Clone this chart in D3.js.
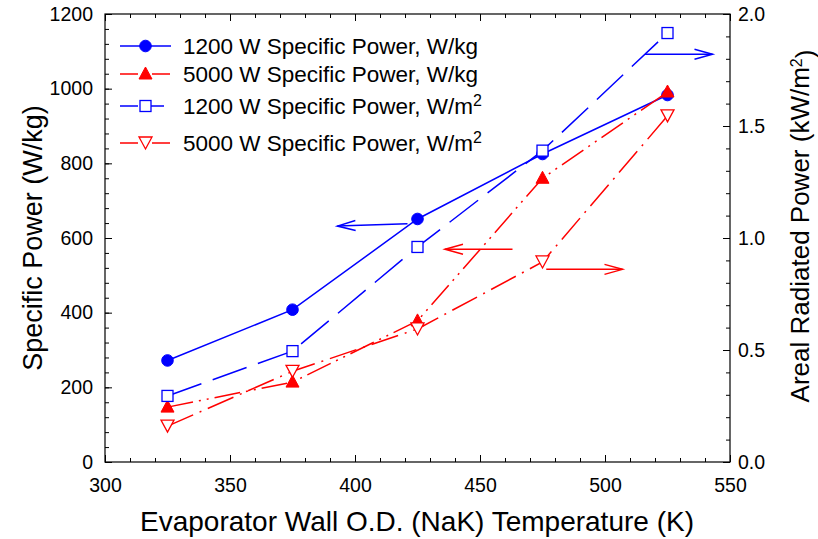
<!DOCTYPE html>
<html><head><meta charset="utf-8">
<script src="https://cdn.jsdelivr.net/npm/d3@7"></script>
<style>
body{margin:0;background:#fff}
svg{display:block}
text{font-family:"Liberation Sans",Arial,Helvetica,sans-serif;fill:#000}
</style>
</head><body>
<svg id="chart" width="818" height="539"></svg>
<script>
// ---- data ----
const temps = [325, 375, 425, 475, 525];
const sp1200 = [272, 408, 651, 825, 983];      // W/kg
const sp5000 = [147, 214, 378, 760, 991];      // W/kg
const ar1200 = [0.295, 0.495, 0.96, 1.39, 1.915]; // kW/m2
const ar5000 = [0.16, 0.405, 0.594, 0.893, 1.545]; // kW/m2
const xTicks = [300, 350, 400, 450, 500, 550];
const yLeftTicks = [0, 200, 400, 600, 800, 1000, 1200];
const yRightTicks = [0, 0.5, 1.0, 1.5, 2.0];
const legendLabels = ["1200 W Specific Power, W/kg", "5000 W Specific Power, W/kg", "1200 W Specific Power, W/m", "5000 W Specific Power, W/m"];
// annotation arrows (data units): [x tail, y tail, axis] and [x tip, y tip, axis]
const arrowTails = [[421, 638, 'L'], [463, 570, 'L'], [476.5, 0.86, 'R'], [516, 1.82, 'R']];
const arrowTips  = [[393, 632, 'L'], [436, 570, 'L'], [507, 0.86, 'R'], [543, 1.82, 'R']];

const BLUE = "#0000ff", RED = "#ff0000";
const svg = d3.select("#chart");
const m = {l: 105, r: 730, t: 14, b: 462};

const x = d3.scaleLinear().domain([300, 550]).range([m.l, m.r]);
const yL = d3.scaleLinear().domain([0, 1200]).range([m.b, m.t]);
const yR = d3.scaleLinear().domain([0, 2.0]).range([m.b, m.t]);

// ---- axes ----
function styleAxis(g) {
  g.select(".domain").remove();
  g.selectAll("line").attr("stroke", "#000").attr("stroke-width", 1);
  g.selectAll("text").style("font-size", "19.5px").attr("fill", "#000");
}
// minor ticks
svg.append("g").attr("transform", `translate(0,${m.b})`)
  .call(d3.axisBottom(x).tickValues(d3.range(300, 551, 10)).tickSize(-4).tickFormat("")).call(styleAxis);
svg.append("g").attr("transform", `translate(0,${m.t})`)
  .call(d3.axisTop(x).tickValues(d3.range(300, 551, 10)).tickSize(-4).tickFormat("")).call(styleAxis);
svg.append("g").attr("transform", `translate(${m.l},0)`)
  .call(d3.axisLeft(yL).tickValues(d3.range(0, 1201, 40)).tickSize(-4).tickFormat("")).call(styleAxis);
svg.append("g").attr("transform", `translate(${m.r},0)`)
  .call(d3.axisRight(yR).tickValues(d3.range(0, 21, 1).map(v => v / 10)).tickSize(-4).tickFormat("")).call(styleAxis);
// major ticks
svg.append("g").attr("transform", `translate(0,${m.b})`)
  .call(d3.axisBottom(x).tickValues(xTicks).tickSize(-7).tickPadding(16).tickFormat(d3.format("d"))).call(styleAxis);
svg.append("g").attr("transform", `translate(0,${m.t})`)
  .call(d3.axisTop(x).tickValues(xTicks).tickSize(-7).tickFormat("")).call(styleAxis);
svg.append("g").attr("transform", `translate(${m.l},0)`)
  .call(d3.axisLeft(yL).tickValues(yLeftTicks).tickSize(-7).tickPadding(12).tickFormat(d3.format("d"))).call(styleAxis);
svg.append("g").attr("transform", `translate(${m.r},0)`)
  .call(d3.axisRight(yR).tickValues(yRightTicks).tickSize(-7).tickPadding(8).tickFormat(d3.format(".1f"))).call(styleAxis);
// frame
svg.append("rect").attr("x", m.l).attr("y", m.t).attr("width", m.r - m.l).attr("height", m.b - m.t)
  .attr("fill", "none").attr("stroke", "#000").attr("stroke-width", 1.2);

// ---- axis titles ----
svg.append("text").attr("x", 417).attr("y", 531).attr("text-anchor", "middle")
  .style("font-size", "28px").text("Evaporator Wall O.D. (NaK) Temperature (K)");
svg.append("text").attr("transform", `translate(42,${(m.t + m.b) / 2}) rotate(-90)`).attr("text-anchor", "middle")
  .style("font-size", "27px").text("Specific Power (W/kg)");
const rt = svg.append("text").attr("transform", `translate(809,226) rotate(-90)`).attr("text-anchor", "middle")
  .style("font-size", "26px");
rt.append("tspan").text("Areal Radiated Power (kW/m");
rt.append("tspan").attr("dy", "-0.45em").style("font-size", "16px").text("2");
rt.append("tspan").attr("dy", "0.45em").text(")");

// ---- series ----
const series = [
  {vals: sp1200, y: yL, color: BLUE, dash: null, marker: "circle"},
  {vals: sp5000, y: yL, color: RED, dash: "26,6,2,6,2,6", marker: "triUp"},
  {vals: ar1200, y: yR, color: BLUE, dash: "36,12", marker: "square"},
  {vals: ar5000, y: yR, color: RED, dash: "28,7,2,7", marker: "triDown"}
];

function drawMarker(g, type, cx, cy, color) {
  if (type === "circle") {
    g.append("circle").attr("cx", cx).attr("cy", cy).attr("r", 5.8).attr("fill", color).attr("stroke", color);
  } else if (type === "square") {
    g.append("rect").attr("x", cx - 5.5).attr("y", cy - 5.5).attr("width", 11).attr("height", 11)
      .attr("fill", "#fff").attr("stroke", color).attr("stroke-width", 1.3);
  } else if (type === "triUp") {
    g.append("path").attr("d", `M${cx},${cy - 7}L${cx + 6.5},${cy + 5}L${cx - 6.5},${cy + 5}Z`)
      .attr("fill", color).attr("stroke", color);
  } else if (type === "triDown") {
    g.append("path").attr("d", `M${cx},${cy + 6}L${cx + 6.5},${cy - 6}L${cx - 6.5},${cy - 6}Z`)
      .attr("fill", "#fff").attr("stroke", color).attr("stroke-width", 1.3);
  }
}

series.forEach(s => {
  const g = svg.append("g");
  const line = d3.line().x((d, i) => x(temps[i])).y(d => s.y(d));
  g.append("path").attr("d", line(s.vals)).attr("fill", "none").attr("stroke", s.color)
    .attr("stroke-width", 1.5).attr("stroke-dasharray", s.dash);
  s.vals.forEach((v, i) => drawMarker(g, s.marker, x(temps[i]), s.y(v), s.color));
});

// ---- arrows ----
const arrowColors = [BLUE, RED, RED, BLUE];
arrowTails.forEach((t, i) => {
  const tip = arrowTips[i];
  const ys = t[2] === 'L' ? yL : yR;
  const x1 = x(t[0]), y1 = ys(t[1]), x2 = x(tip[0]), y2 = ys(tip[1]);
  const ang = Math.atan2(y2 - y1, x2 - x1);
  const L = 18, W = 5;
  const bx = x2 - L * Math.cos(ang), by = y2 - L * Math.sin(ang);
  const px = -Math.sin(ang) * W, py = Math.cos(ang) * W;
  const g = svg.append("g").attr("stroke", arrowColors[i]).attr("fill", "none").attr("stroke-width", 1.5);
  g.append("line").attr("x1", x1).attr("y1", y1).attr("x2", x2).attr("y2", y2);
  g.append("path").attr("d", `M${bx + px},${by + py}L${x2},${y2}L${bx - px},${by - py}`);
});

// ---- legend ----
const legY = [46, 74, 106, 143];
const lx0 = 120, lx1 = 171, lm = 145.5, lt = 183;
series.forEach((s, i) => {
  const g = svg.append("g");
  g.append("line").attr("x1", lx0).attr("x2", lx1).attr("y1", legY[i]).attr("y2", legY[i])
    .attr("stroke", s.color).attr("stroke-width", 1.5).attr("stroke-dasharray", s.dash ? (i === 2 ? "18,8" : "18,6,2,6") : null);
  drawMarker(g, s.marker, lm, legY[i], s.color);
  const t = g.append("text").attr("x", lt).attr("y", legY[i] + 8).style("font-size", "22.5px");
  t.append("tspan").text(legendLabels[i]);
  if (i >= 2) t.append("tspan").attr("dy", "-0.5em").style("font-size", "16px").text("2");
});
</script>
</body></html>
